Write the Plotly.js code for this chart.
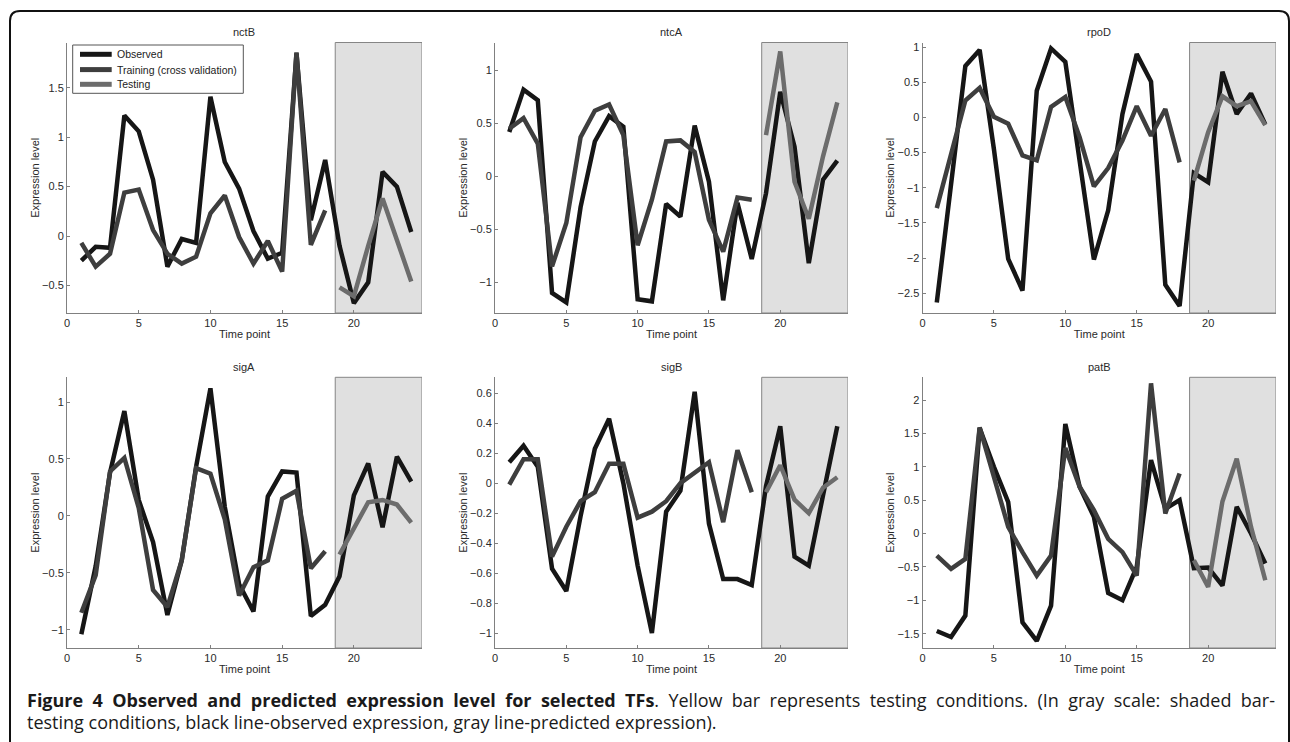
<!DOCTYPE html>
<html>
<head>
<meta charset="utf-8">
<script src="https://cdn.plot.ly/plotly-3.0.1.min.js"></script>
<style>
  html, body { margin: 0; padding: 0; background: #ffffff; }
  #wrap { position: relative; width: 1290px; height: 742px; overflow: hidden; }
  #chart { position: absolute; left: 0; top: 0; width: 1290px; height: 742px; }
  .cap { position: absolute; left: 27px; width: 1248px; font-family: "Open Sans", "Noto Sans", sans-serif; font-size: 18px; color: #1a1a1a; line-height: 22px; }
  #cap1 { top: 689px; text-align: justify; text-align-last: justify; white-space: nowrap; }
  #cap2 { top: 711px; }
</style>
</head>
<body>
<div id="wrap">
  <div id="chart"></div>
  <div class="cap" id="cap1"><b>Figure 4 Observed and predicted expression level for selected TFs</b>. Yellow bar represents testing conditions. (In gray scale: shaded bar-</div>
  <div class="cap" id="cap2">testing conditions, black line-observed expression, gray line-predicted expression).</div>
</div>
<script>
// ---- data ----
const timePoints   = [1,2,3,4,5,6,7,8,9,10,11,12,13,14,15,16,17,18,19,20,21,22,23,24];
const trainPoints  = [1,2,3,4,5,6,7,8,9,10,11,12,13,14,15,16,17,18];
const testPoints   = [19,20,21,22,23,24];
const geneNames    = ["nctB","ntcA","rpoD","sigA","sigB","patB"];
const seriesNames  = ["Observed","Training (cross validation)","Testing"];
const testStart    = 18.7;
const xTickVals    = [0,5,10,15,20];

const obs_nctB   = [-0.25,-0.11,-0.12,1.22,1.06,0.57,-0.31,-0.03,-0.07,1.41,0.75,0.48,0.05,-0.23,-0.17,1.85,0.16,0.77,-0.10,-0.68,-0.47,0.65,0.50,0.04];
const train_nctB = [-0.07,-0.31,-0.18,0.44,0.47,0.06,-0.18,-0.28,-0.21,0.23,0.41,-0.01,-0.28,-0.05,-0.36,1.86,-0.09,0.26];
const test_nctB  = [-0.52,-0.61,-0.10,0.38,-0.04,-0.46];

const obs_ntcA   = [0.42,0.82,0.72,-1.10,-1.19,-0.29,0.33,0.57,0.47,-1.16,-1.18,-0.26,-0.38,0.48,-0.05,-1.17,-0.25,-0.78,-0.16,0.80,0.28,-0.82,-0.03,0.15];
const train_ntcA = [0.45,0.55,0.31,-0.85,-0.44,0.37,0.62,0.68,0.39,-0.65,-0.22,0.33,0.34,0.23,-0.41,-0.71,-0.20,-0.22];
const test_ntcA  = [0.39,1.18,-0.05,-0.40,0.19,0.70];

const obs_rpoD   = [-2.63,-1.00,0.73,0.96,-0.45,-2.01,-2.46,0.38,0.98,0.79,-0.60,-2.02,-1.32,0.05,0.90,0.51,-2.38,-2.68,-0.79,-0.92,0.65,0.05,0.34,-0.10];
const train_rpoD = [-1.29,-0.52,0.24,0.42,0.01,-0.09,-0.54,-0.61,0.15,0.29,-0.28,-0.98,-0.72,-0.33,0.16,-0.26,0.12,-0.64];
const test_rpoD  = [-0.90,-0.21,0.30,0.16,0.23,-0.11];

const obs_sigA   = [-1.04,-0.44,0.38,0.92,0.14,-0.23,-0.87,-0.39,0.43,1.12,0.08,-0.60,-0.84,0.17,0.39,0.38,-0.88,-0.78,-0.53,0.18,0.46,-0.10,0.52,0.30];
const train_sigA = [-0.85,-0.52,0.39,0.51,0.07,-0.65,-0.80,-0.39,0.42,0.37,-0.03,-0.70,-0.45,-0.39,0.15,0.22,-0.46,-0.31];
const test_sigA  = [-0.34,-0.10,0.12,0.14,0.10,-0.06];

const obs_sigB   = [0.14,0.25,0.11,-0.57,-0.72,-0.22,0.23,0.43,0.00,-0.55,-1.00,-0.19,-0.05,0.61,-0.27,-0.64,-0.64,-0.68,-0.02,0.38,-0.49,-0.55,-0.08,0.38];
const train_sigB = [-0.01,0.16,0.16,-0.49,-0.29,-0.12,-0.06,0.13,0.13,-0.23,-0.19,-0.12,0.00,0.07,0.14,-0.26,0.22,-0.06];
const test_sigB  = [-0.06,0.12,-0.11,-0.20,-0.03,0.04];

const obs_patB   = [-1.46,-1.55,-1.23,1.58,1.00,0.47,-1.33,-1.61,-1.08,1.64,0.70,0.25,-0.89,-1.00,-0.50,1.10,0.37,0.50,-0.52,-0.51,-0.78,0.40,0.00,-0.45];
const train_patB = [-0.33,-0.53,-0.38,1.59,0.85,0.10,-0.28,-0.63,-0.33,1.28,0.70,0.35,-0.08,-0.28,-0.63,2.25,0.30,0.90];
const test_patB  = [-0.40,-0.80,0.48,1.12,0.10,-0.70];

const yRanges = [[-0.78,1.96],[-1.29,1.265],[-2.78,1.065],[-1.16,1.217],[-1.10,0.707],[-1.715,2.34]];
const yDticks = [0.5,0.5,0.5,0.5,0.2,0.5];

// ---- build ----
const W = 1290, H = 742;
const obsAll   = [obs_nctB, obs_ntcA, obs_rpoD, obs_sigA, obs_sigB, obs_patB];
const trainAll = [train_nctB, train_ntcA, train_rpoD, train_sigA, train_sigB, train_patB];
const testAll  = [test_nctB, test_ntcA, test_rpoD, test_sigA, test_sigB, test_patB];

const colPx = [[67,422],[495,848],[922.5,1276]];
const rowPx = [[42.5,313],[377.3,648]];
const colors = ["#161616","#3e3e3e","#6c6c6c"];
const lw = 4.5;
const tickFont = {family: "Liberation Sans, Arial, sans-serif", size: 11, color: "#2a2a2a"};
const px = v => v / W, py = v => 1 - v / H;

const traces = [];
const layout = {
  width: W, height: H,
  margin: {l:0, r:0, t:0, b:0},
  paper_bgcolor: "#ffffff", plot_bgcolor: "rgba(0,0,0,0)",
  font: tickFont,
  showlegend: false,
  shapes: [], annotations: []
};

for (let i = 0; i < 6; i++) {
  const r = Math.floor(i / 3), c = i % 3;
  const sfx = i === 0 ? "" : String(i + 1);
  const xa = "x" + sfx, ya = "y" + sfx;
  const xd = [colPx[c][0] / W, colPx[c][1] / W];
  const yd = [1 - rowPx[r][1] / H, 1 - rowPx[r][0] / H];

  traces.push({x: timePoints, y: obsAll[i], xaxis: xa, yaxis: ya, type: "scatter", mode: "lines",
    name: seriesNames[0], line: {color: colors[0], width: lw}});
  traces.push({x: trainPoints, y: trainAll[i], xaxis: xa, yaxis: ya, type: "scatter", mode: "lines",
    name: seriesNames[1], line: {color: colors[1], width: lw}});
  traces.push({x: testPoints, y: testAll[i], xaxis: xa, yaxis: ya, type: "scatter", mode: "lines",
    name: seriesNames[2], line: {color: colors[2], width: lw}});

  layout["xaxis" + sfx] = {
    domain: xd, anchor: ya, range: [0, 24.75], tickvals: xTickVals,
    ticks: "inside", ticklen: 3, tickcolor: "#808080",
    showline: true, linecolor: "#808080", linewidth: 1, mirror: false,
    showgrid: false, zeroline: false, tickfont: tickFont,
    title: {text: "Time point", font: tickFont, standoff: 2}
  };
  layout["yaxis" + sfx] = {
    domain: yd, anchor: xa, range: yRanges[i], dtick: yDticks[i],
    ticks: "inside", ticklen: 3, tickcolor: "#808080",
    showline: true, linecolor: "#808080", linewidth: 1, mirror: false,
    showgrid: false, zeroline: false, tickfont: tickFont,
    title: {text: "Expression level", font: tickFont, standoff: 0}
  };

  layout.shapes.push({type: "rect", xref: xa, yref: ya + " domain",
    x0: testStart, x1: 24.75, y0: 0, y1: 1,
    fillcolor: "#e0e0e0", line: {color: "#858585", width: 1}, layer: "below"});

  layout.annotations.push({text: geneNames[i], xref: "paper", yref: "paper",
    x: (xd[0] + xd[1]) / 2, y: 1 - (rowPx[r][0] - 10.5) / H, xanchor: "center", yanchor: "middle",
    showarrow: false, font: tickFont});
}

// legend box in the first panel (MATLAB-style compact legend)
const legBox = {x0: 72.7, y0: 45, x1: 243.3, y1: 93.3};
const legRows = [54.3, 69.6, 84.3];
layout.shapes.push({type: "rect", xref: "paper", yref: "paper",
  x0: px(legBox.x0), x1: px(legBox.x1), y0: py(legBox.y1), y1: py(legBox.y0),
  fillcolor: "#ffffff", line: {color: "#555555", width: 1}, layer: "above"});
for (let k = 0; k < 3; k++) {
  layout.shapes.push({type: "line", xref: "paper", yref: "paper",
    x0: px(80), x1: px(111.7), y0: py(legRows[k]), y1: py(legRows[k]),
    line: {color: colors[k], width: 5}, layer: "above"});
  layout.annotations.push({text: seriesNames[k], xref: "paper", yref: "paper",
    x: px(115), y: py(legRows[k]), xanchor: "left", yanchor: "middle",
    showarrow: false, font: {family: "Liberation Sans, Arial, sans-serif", size: 10.5, color: "#222"}});
}

// outer rounded frame
const fx0 = 10, fy0 = 11, fx1 = 1289, rad = 10;
layout.shapes.push({type: "path", xref: "paper", yref: "paper",
  path: `M ${px(fx0)} ${py(H + 2)} L ${px(fx0)} ${py(fy0 + rad)} Q ${px(fx0)} ${py(fy0)} ${px(fx0 + rad)} ${py(fy0)} L ${px(fx1 - rad)} ${py(fy0)} Q ${px(fx1)} ${py(fy0)} ${px(fx1)} ${py(fy0 + rad)} L ${px(fx1)} ${py(H + 2)}`,
  line: {color: "#111111", width: 2}});

Plotly.newPlot("chart", traces, layout, {staticPlot: true, displayModeBar: false});
</script>
</body>
</html>
